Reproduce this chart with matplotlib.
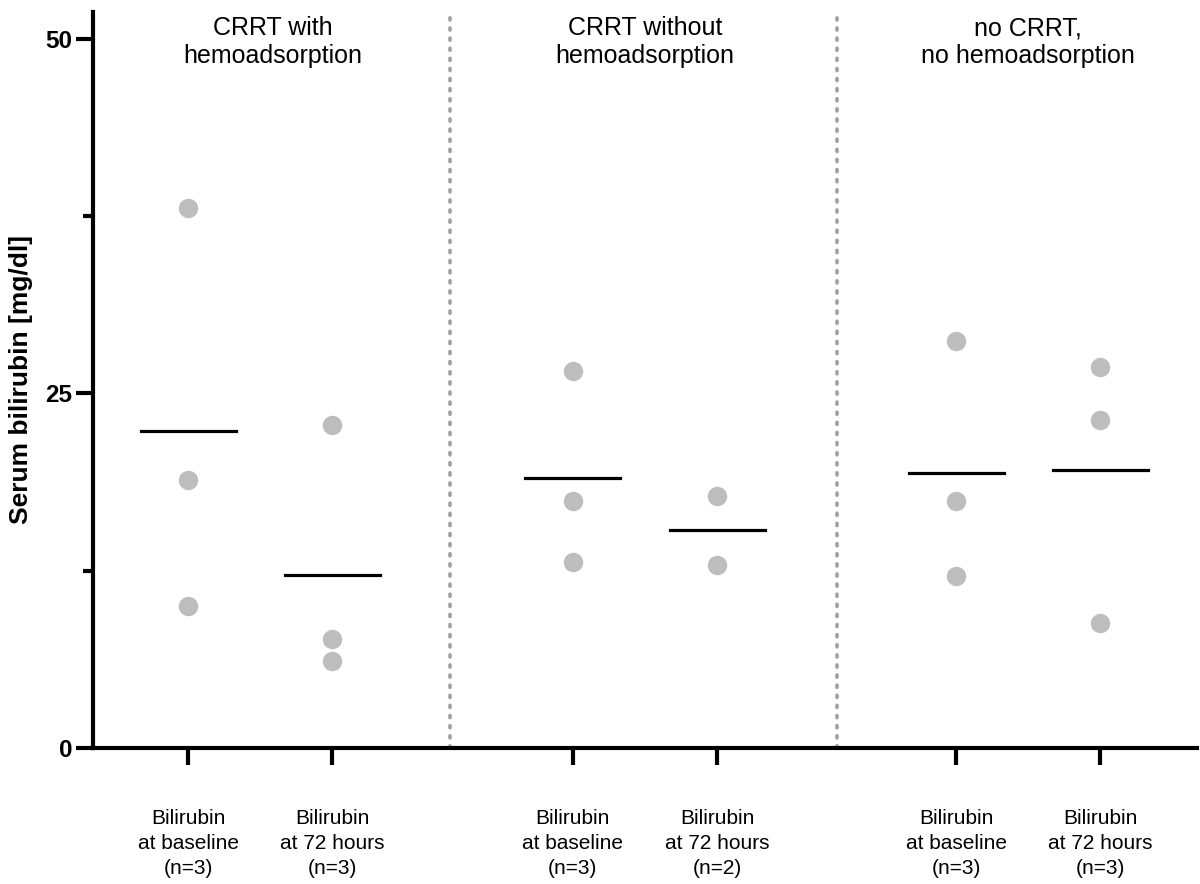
import matplotlib
matplotlib.use('Agg')
import matplotlib.pyplot as plt
import numpy as np

plt.rcParams['font.family'] = ['Liberation Sans', 'DejaVu Sans']

# serum bilirubin values (mg/dl)
crrt_ha_baseline = [38.1, 18.9, 10.0]
crrt_ha_72h = [22.8, 7.7, 6.1]
crrt_baseline = [26.6, 17.4, 13.1]
crrt_72h = [17.8, 12.9]
no_crrt_baseline = [28.7, 17.4, 12.1]
no_crrt_72h = [26.9, 23.1, 8.8]

groups = ['CRRT with\nhemoadsorption',
          'CRRT without\nhemoadsorption',
          'no CRRT,\nno hemoadsorption']
tick_labels = ['Bilirubin\nat baseline\n(n=3)', 'Bilirubin\nat 72 hours\n(n=3)',
               'Bilirubin\nat baseline\n(n=3)', 'Bilirubin\nat 72 hours\n(n=2)',
               'Bilirubin\nat baseline\n(n=3)', 'Bilirubin\nat 72 hours\n(n=3)']
series = [crrt_ha_baseline, crrt_ha_72h, crrt_baseline, crrt_72h,
          no_crrt_baseline, no_crrt_72h]

xpos = [1, 2, 3.67, 4.67, 6.33, 7.33]

fig = plt.figure(figsize=(12, 8.84), dpi=100)
ax = fig.add_axes([93 / 1200, 1 - 748 / 884, 1104 / 1200, 736 / 884])

for x, vals in zip(xpos, series):
    ax.plot([x] * len(vals), vals, 'o', color='#bdbdbd', markersize=14,
            markeredgewidth=0, zorder=3)
    m = np.mean(vals)
    ax.plot([x - 0.33, x + 0.33], [m, m], color='black', lw=2.3, zorder=4)

# dotted group separators
for sep in [(xpos[1] + xpos[2]) / 2 - 0.02, (xpos[3] + xpos[4]) / 2]:
    ax.axvline(sep, color='#a0a0a0', lw=2.6, linestyle=(0, (0.6, 2.2)),
               dash_capstyle='round', zorder=1)

title_x = [1.59, (xpos[2] + xpos[3]) / 2, (xpos[4] + xpos[5]) / 2]
for tx, g in zip(title_x, groups):
    ax.text(tx, 51.6, g, ha='center', va='top', fontsize=18, linespacing=1.2)

ax.set_xlim(0.34, 8.0)
ax.set_ylim(0, 51.9)
ax.set_xticks(xpos)
ax.set_xticklabels(tick_labels, fontsize=15, linespacing=1.4)
ax.set_yticks([0, 25, 50])
ax.set_yticklabels(['0', '25', '50'], fontsize=17.5, fontweight='bold')
ax.set_yticks([12.5, 37.5], minor=True)
ax.set_ylabel('Serum bilirubin [mg/dl]', fontsize=19, fontweight='bold', labelpad=9)

for s in ['top', 'right']:
    ax.spines[s].set_visible(False)
for s in ['left', 'bottom']:
    ax.spines[s].set_linewidth(3)
ax.tick_params(axis='y', which='major', length=12, width=3, pad=3)
ax.tick_params(axis='y', which='minor', length=7, width=3)
ax.tick_params(axis='x', length=12, width=3, pad=32)

fig.savefig('out.png', dpi=100)
